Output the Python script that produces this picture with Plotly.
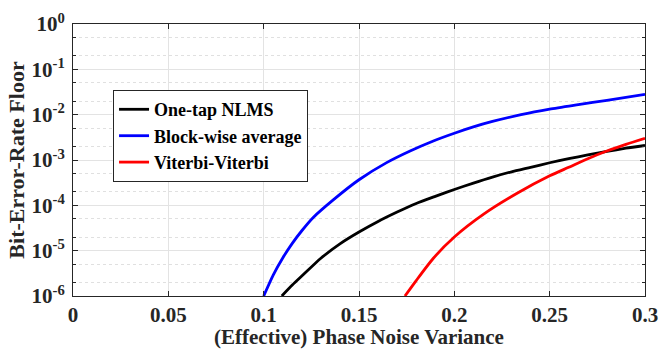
import plotly.graph_objects as go

# One-tap NLMS
x_nlms = [0.1095, 0.115, 0.12, 0.13, 0.14, 0.15, 0.16, 0.17, 0.18, 0.19, 0.20, 0.21, 0.22, 0.23, 0.24, 0.25, 0.26, 0.27, 0.28, 0.29, 0.30]
y_nlms = [1.0e-6, 1.74e-6, 2.75e-6, 6.8e-6, 1.41e-5, 2.57e-5, 4.4e-5, 7.1e-5, 1.10e-4, 1.58e-4, 2.24e-4,
          3.1e-4, 4.2e-4, 5.5e-4, 6.9e-4, 8.7e-4, 1.07e-3, 1.29e-3, 1.55e-3, 1.82e-3, 2.09e-3]

# Block-wise average
x_blk = [0.10, 0.105, 0.11, 0.115, 0.12, 0.126, 0.1365, 0.15, 0.1645, 0.1768, 0.189, 0.20, 0.21, 0.22, 0.235, 0.25, 0.265, 0.28, 0.30]
y_blk = [1.0e-6, 2.9e-6, 6.9e-6, 1.45e-5, 2.75e-5, 5.4e-5, 1.32e-4, 3.67e-4, 8.75e-4, 1.58e-3, 2.63e-3, 3.9e-3,
         5.37e-3, 7.08e-3, 1.0e-2, 1.32e-2, 1.66e-2, 2.07e-2, 2.82e-2]

# Viterbi-Viterbi
x_vv = [0.1741, 0.18, 0.189, 0.20, 0.2152, 0.2327, 0.25, 0.26, 0.27, 0.28, 0.29, 0.30]
y_vv = [1.0e-6, 2.19e-6, 6.8e-6, 2.0e-5, 6.3e-5, 1.82e-4, 4.47e-4, 6.9e-4, 1.07e-3, 1.58e-3, 2.21e-3, 3.0e-3]

x_ticks = [0, 0.05, 0.1, 0.15, 0.2, 0.25, 0.3]
x_ticklabels = ["0", "0.05", "0.1", "0.15", "0.2", "0.25", "0.3"]
y_ticks = [1e-6, 1e-5, 1e-4, 1e-3, 1e-2, 1e-1, 1e0]
y_ticklabels = ["10<sup>-6</sup>", "10<sup>-5</sup>", "10<sup>-4</sup>", "10<sup>-3</sup>",
                "10<sup>-2</sup>", "10<sup>-1</sup>", "10<sup>0</sup>"]

FONT = "Times New Roman, Liberation Serif, Times, serif"

fig = go.Figure()
fig.add_trace(go.Scatter(x=x_nlms, y=y_nlms, mode="lines", name="<b>One-tap NLMS</b>",
                         line=dict(color="#000000", width=2.8, shape="spline", smoothing=0.6)))
fig.add_trace(go.Scatter(x=x_blk, y=y_blk, mode="lines", name="<b>Block-wise average</b>",
                         line=dict(color="#0000ff", width=2.8, shape="spline", smoothing=0.6)))
fig.add_trace(go.Scatter(x=x_vv, y=y_vv, mode="lines", name="<b>Viterbi-Viterbi</b>",
                         line=dict(color="#ff0000", width=2.8, shape="spline", smoothing=0.6)))

fig.update_layout(
    width=660, height=349,
    margin=dict(l=73, r=15, t=24, b=53),
    paper_bgcolor="white", plot_bgcolor="white",
    font=dict(family=FONT, size=20, color="#262626"),
    showlegend=True,
    legend=dict(x=0.07, y=0.757, xanchor="left", yanchor="top",
                bgcolor="white", bordercolor="#262626", borderwidth=1,
                font=dict(family=FONT, size=18, color="#000000"),
                tracegroupgap=0, itemwidth=30),
)

fig.update_xaxes(
    range=[0, 0.3], tickvals=x_ticks, ticktext=["<b>%s</b>" % t for t in x_ticklabels],
    showgrid=True, gridcolor="#e3e3e3", gridwidth=1,
    showline=True, linecolor="#262626", linewidth=1, mirror="ticks",
    ticks="inside", ticklen=5, tickcolor="#262626",
    tickfont=dict(family=FONT, size=21, color="#262626"),
    automargin=False,
    title=dict(text="<b>(Effective) Phase Noise Variance</b>", font=dict(family=FONT, size=21, color="#262626"), standoff=0),
    zeroline=False,
)
fig.update_yaxes(
    type="log", range=[-6, 0], tickvals=y_ticks, ticktext=["<b>%s</b>" % t for t in y_ticklabels],
    showgrid=True, gridcolor="#e3e3e3", gridwidth=1,
    showline=True, linecolor="#262626", linewidth=1, mirror="ticks",
    ticks="inside", ticklen=5, tickcolor="#262626",
    tickfont=dict(family=FONT, size=21, color="#262626"),
    ticklabelstandoff=3,
    automargin=False,
    title=dict(text="<b>Bit-Error-Rate Floor</b>", font=dict(family=FONT, size=22, color="#262626"), standoff=0),
    minor=dict(showgrid=True, gridcolor="#e0e0e0", griddash="dot", gridwidth=1,
               ticks="inside", ticklen=3, tickcolor="#262626"),
    zeroline=False,
)

fig.write_html("out.html", config={"displayModeBar": False},
               post_script="document.body.style.margin='0';document.body.style.overflow='hidden';")
